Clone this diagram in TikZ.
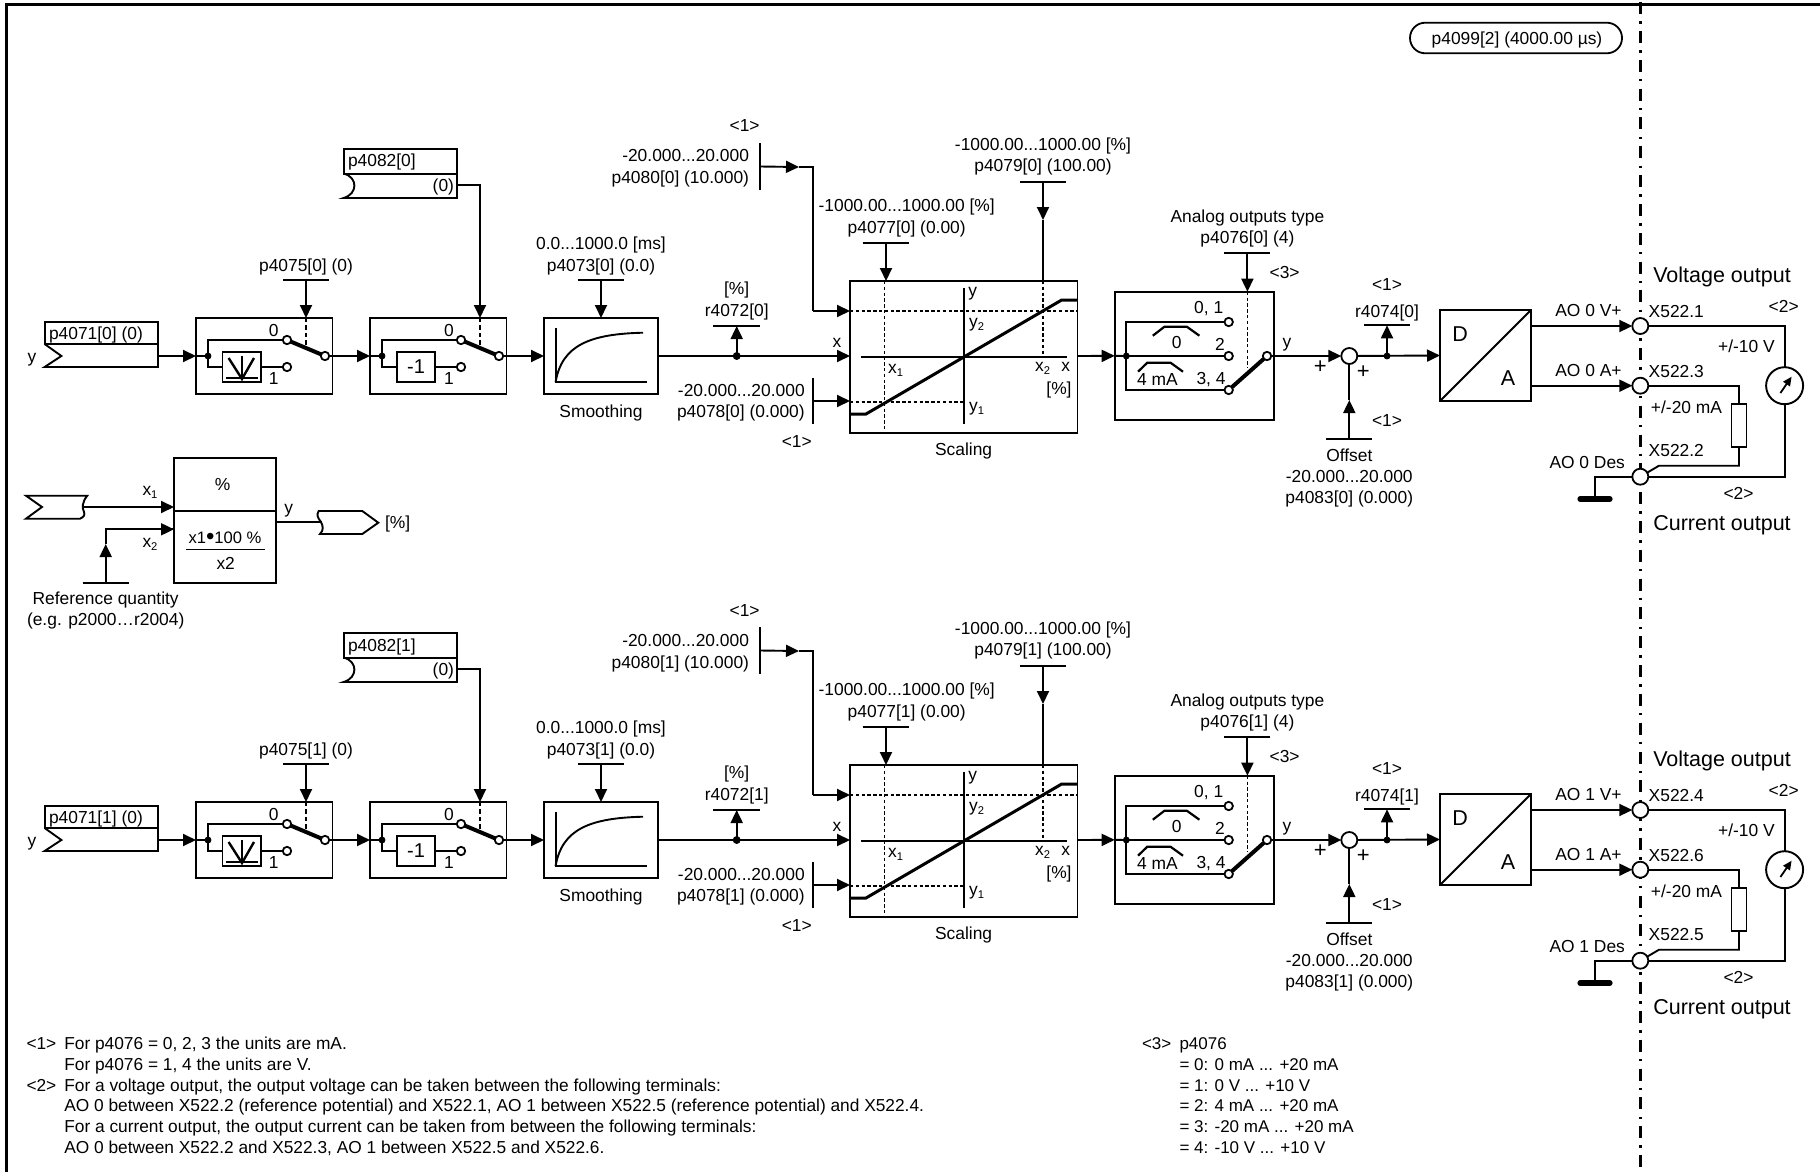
\documentclass[tikz,border=0pt]{standalone}
\usepackage{fontspec}
\setmainfont{Liberation Sans}
\usetikzlibrary{arrows.meta}
\tikzset{
  wire/.style={line width=0.95pt,line join=miter},
  arr/.style={wire,-{Triangle[length=6.5pt,width=6pt]}},
  blk/.style={draw,line width=0.9pt,inner sep=0pt,outer sep=0pt,fill=white},
  lbl/.style={inner sep=0pt,outer sep=0pt,font=\fontsize{8.7}{10}\selectfont,text height=6pt,text depth=0pt},
  big/.style={lbl,font=\fontsize{10.75}{12}\selectfont,text height=7.4pt},
  notetxt/.style={lbl,font=\fontsize{8.66}{10}\selectfont,text height=5.9pt,anchor=west},
  notetxtb/.style={lbl,font=\fontsize{8.5}{10}\selectfont,text height=5.9pt,anchor=west},
  dot/.style={circle,fill=black,draw=black,inner sep=0pt,minimum size=3pt,outer sep=0pt},
  smallc/.style={circle,draw,line width=0.9pt,fill=white,inner sep=0pt,minimum size=4.2pt,outer sep=0pt},
  term/.style={circle,draw,line width=0.9pt,fill=white,inner sep=0pt,minimum size=8pt,outer sep=0pt},
  swarm/.style={line width=2pt},
  curveline/.style={line width=1.5pt},
  fine/.style={line width=0.75pt,dash pattern=on 1.7pt off 1.2pt},
}
\newcommand{\bx}[5]{\node[blk,minimum width={(#4-(#2))*0.5pt},minimum height={(#5-(#3))*0.5pt}] (#1) at ({(#2+#4)/2},{(#3+#5)/2}) {};}
\newcommand{\tx}[5][center]{\node[lbl,anchor=#1] (#2) at (#3,#4) {#5};}
\newcommand{\pbarh}[4]{\coordinate (#1) at (#2,#3); \draw[wire] ([xshift=-#4*0.5pt]#1) -- ([xshift=#4*0.5pt]#1);}
\newcommand{\pbarv}[4]{\coordinate (#1) at (#2,#3); \draw[wire] ([yshift=-#4*0.5pt]#1) -- ([yshift=#4*0.5pt]#1);}
\newcommand{\sbs}[1]{\raisebox{-1.5pt}{\fontsize{5.6}{6}\selectfont #1}}
\newcommand{\stage}[7]{%
\begin{scope}[shift={(0,#3)}]
% parameter p4082
\draw[wire] (343.6,173.6) -- (457,173.6);
\bx{p82#1}{343.6}{149}{457}{173.6}
\draw[wire] (343.6,173.6) .. controls (358,177) and (358,194) .. (343.6,198) -- (457,198) -- (457,173.6);
\tx[west]{t82#1}{348}{161}{p4082[#2]}
\tx[east]{t82v#1}{454}{185.5}{(0)}
\coordinate (c82#1) at (457,185);
% p4071
\bx{p71#1}{44.6}{322}{158}{344}
\draw[wire] (44.6,344) -- (61.4,356) -- (44.6,367) -- (158,367) -- (158,344);
\tx[west]{t71#1}{49}{333}{p4071[#2] (0)}
\tx{ty#1}{32}{356}{y}
\coordinate (c71#1) at (158,356);
% absolute value switch
\bx{boxA#1}{196}{318}{332.5}{394}
\node[dot] (dA#1) at (208,356) {};
\node[smallc] (oA0#1) at (287,340) {};
\node[smallc] (oA1#1) at (287,367) {};
\node[smallc] (oAo#1) at (325,356) {};
\bx{iA#1}{222.5}{352}{261}{382}
\draw[wire] (dA#1) |- (oA0#1);
\draw[wire] (dA#1) |- (iA#1.west);
\draw[wire] (iA#1) -- (oA1#1);
\draw[wire] (boxA#1.west) -- (dA#1);
\draw[swarm] (oA0#1) -- (oAo#1);
\draw[wire] (iA#1.north) ++(0,4) -- ++(0,23);
\draw[line width=1.2pt] (228.6,358) -- (242,379) -- (254,358);
\draw[wire] (226,378) -- (257.5,378);
\tx{tA0#1}{273.6}{330}{0}
\tx{tA1#1}{273.6}{378}{1}
\pbarh{b75#1}{306}{280}{23}
\tx{t75#1}{306}{265}{p4075[#2] (0)}
\draw[arr] (b75#1) -- (306,318);
\draw[wire,dash pattern=on 2.2pt off 1.5pt] (306,318) -- (306,345);
\draw[arr] (c71#1) -- (boxA#1.west);
% negate switch
\bx{boxB#1}{370}{318}{506.4}{394}
\node[dot] (dB#1) at (382,356) {};
\node[smallc] (oB0#1) at (461,340) {};
\node[smallc] (oB1#1) at (461,367) {};
\node[smallc] (oBo#1) at (499,356) {};
\node[blk,minimum width=19pt,minimum height=15pt,lbl,draw,line width=0.9pt,font=\fontsize{10}{12}\selectfont] (iB#1) at (416,367) {-1};
\draw[wire] (dB#1) |- (oB0#1);
\draw[wire] (dB#1) |- (iB#1.west);
\draw[wire] (iB#1) -- (oB1#1);
\draw[wire] (boxB#1.west) -- (dB#1);
\draw[swarm] (oB0#1) -- (oBo#1);
\tx{tB0#1}{449}{330}{0}
\tx{tB1#1}{449}{378}{1}
\draw[wire] (c82#1) -| (480,300);
\draw[arr] (480,300) -- (480,318);
\draw[wire,dash pattern=on 2.2pt off 1.5pt] (480,318) -- (480,345);
\draw[arr] (oAo#1) -- (boxB#1.west);
% smoothing
\bx{boxF#1}{544}{318}{658}{394}
\draw[wire] (555.6,328) -- (555.6,382) -- (647,382);
\draw[wire] (555.6,382) .. controls (562,345) and (590,334) .. (643,332.7);
\tx{tSm#1}{601}{411.5}{Smoothing}
\tx{t73a#1}{601}{243}{0.0...1000.0 [ms]}
\tx{t73b#1}{601}{265}{p4073[#2] (0.0)}
\pbarh{b73#1}{601}{280}{23.3}
\draw[arr] (b73#1) -- (boxF#1.north);
\draw[arr] (oBo#1) -- (boxF#1.west);
% scaling
\bx{boxS#1}{850}{281}{1077.5}{433}
\coordinate (sIn#1) at (850,356);
\coordinate (sOut#1) at (1077.5,356);
\node[dot,minimum size=3.5pt] (d72#1) at (736.7,356) {};
\draw[arr] (boxF#1.east) -- (sIn#1);
\pbarh{b72#1}{736.7}{326}{23.3}
\draw[arr] (d72#1) -- (b72#1);
\tx{t72a#1}{736.7}{288}{[\%]}
\tx{t72b#1}{736.7}{310}{r4072[#2]}
\tx{tXi#1}{837}{341}{x}
\draw[wire] (861,357) -- (1066.5,357);
\draw[wire] (964,288) -- (964,424);
\draw[fine] (884.6,281) -- (884.6,433);
\draw[fine] (1043,281) -- (1043,356);
\draw[fine] (850,311) -- (1077.5,311);
\draw[fine] (850,402) -- (964,402);
\draw[curveline] (850,414) -- (866,414) -- (1061.7,300) -- (1077.5,300);
\tx{tSy#1}{972.7}{290}{y}
\tx{tSy2#1}{976.7}{321}{y\sbs{2}}
\tx{tSy1#1}{976.7}{405}{y\sbs{1}}
\tx{tSx1#1}{895.6}{367}{x\sbs{1}}
\tx{tSx2#1}{1042.7}{365}{x\sbs{2}}
\tx{tSx#1}{1065.7}{365}{x}
\tx{tSp#1}{1059}{388}{[\%]}
\tx{tScal#1}{963.6}{449}{Scaling}
% p4080
\pbarv{b80#1}{759.6}{166.5}{23.5}
\tx[east]{t80a#1}{749}{156}{-20.000...20.000}
\tx[east]{t80b#1}{749}{178}{p4080[#2] (10.000)}
\tx{t80c#1}{744.6}{126}{<1>}
\coordinate (m80#1) at (799,167);
\coordinate (sY2#1) at (850,311);
\draw[arr] (b80#1) -- (m80#1);
\draw[wire] (m80#1) -- (812.6,167) -- (812.6,311);
\draw[arr] (812.6,311) -- (sY2#1);
% p4077
\pbarh{b77#1}{886}{243}{23.3}
\draw[arr] (b77#1) -- (886,281);
\tx{t77a#1}{906.7}{205}{-1000.00...1000.00 [\%]}
\tx{t77b#1}{906.7}{227}{p4077[#2] (0.00)}
% p4079
\pbarh{b79#1}{1043}{182}{23.3}
\coordinate (m79#1) at (1043,220);
\draw[arr] (b79#1) -- (m79#1);
\draw[wire] (m79#1) -- (1043,281);
\tx{t79a#1}{1043}{144}{-1000.00...1000.00 [\%]}
\tx{t79b#1}{1043}{165}{p4079[#2] (100.00)}
% p4078
\pbarv{b78#1}{813}{401}{23}
\draw[arr] (b78#1) -- (850,401);
\tx[east]{t78a#1}{804.7}{390}{-20.000...20.000}
\tx[east]{t78b#1}{804.7}{411}{p4078[#2] (0.000)}
\tx{t78c#1}{796.8}{441}{<1>}
% type switch
\bx{boxC#1}{1114.7}{291.7}{1274}{420}
\node[dot] (dC#1) at (1126.3,356) {};
\node[smallc] (oC0#1) at (1228.7,322) {};
\node[smallc] (oC2#1) at (1228.7,356) {};
\node[smallc] (oC3#1) at (1228.7,390) {};
\node[smallc] (oCo#1) at (1267,356) {};
\draw[wire] (dC#1) |- (oC0#1);
\draw[wire] (dC#1) -- (oC2#1);
\draw[wire] (dC#1) |- (oC3#1);
\draw[wire] (boxC#1.west) -- (dC#1);
\draw[swarm] (oC3#1) -- (oCo#1);
\draw[arr] (sOut#1) -- (boxC#1.west);
\draw[line width=1.1pt] (1152.8,335.7) -- (1164.5,326.7) -- (1186.8,326.7) -- (1199.4,335.7);
\draw[line width=1.1pt] (1138,371.7) -- (1147.3,362.7) -- (1170.5,362.7) -- (1183,371.7);
\tx{tC01#1}{1208.7}{307.3}{0, 1}
\tx{tC2#1}{1220}{344}{2}
\tx{tC34#1}{1211}{378}{3, 4}
\tx{tC0#1}{1176.6}{342}{0}
\tx{tC4#1}{1157.5}{379}{4 mA}
\tx{tCy#1}{1287}{341.7}{y}
\tx{t76a#1}{1247.4}{216.7}{Analog outputs type}
\tx{t76b#1}{1247.4}{237.7}{p4076[#2] (4)}
\tx{t76c#1}{1284.6}{272}{<3>}
\pbarh{b76#1}{1247.4}{253.3}{23}
\draw[arr] (b76#1) -- (1247.4,291.7);
\draw[fine] (1247.4,291.7) -- (1247.4,368);
% summing point and offset
\node[term] (sum#1) at (1349.3,356) {};
\draw[arr] (oCo#1) -- (sum#1);
\node[lbl,font=\fontsize{11}{12}\selectfont] (tP1#1) at (1320.4,367) {+};
\node[lbl,font=\fontsize{11}{12}\selectfont] (tP2#1) at (1363.3,372) {+};
\pbarh{b83#1}{1349.3}{439}{23}
\coordinate (m83#1) at (1349.3,400);
\draw[arr] (b83#1) -- (m83#1);
\draw[wire] (m83#1) -- (sum#1);
\tx{t83a#1}{1349.3}{455}{Offset}
\tx{t83b#1}{1349.3}{476}{-20.000...20.000}
\tx{t83c#1}{1349.3}{497}{p4083[#2] (0.000)}
\tx{t83d#1}{1387}{420}{<1>}
% r4074 and D/A
\bx{da#1}{1440}{310}{1531}{401}
\draw[wire] (da#1.south west) -- (da#1.north east);
\node[big,text height=7pt] (tD#1) at (1460,334) {D};
\node[big,text height=7pt] (tAa#1) at (1508,378) {A};
\draw[arr] (sum#1) -- (da#1.west);
\node[dot] (d74#1) at (1387,356) {};
\pbarh{b74#1}{1387}{325.3}{23}
\draw[arr] (d74#1) -- (b74#1);
\tx{t74a#1}{1387}{311}{r4074[#2]}
\tx{t74b#1}{1387}{284}{<1>}
% terminals
\node[term] (tV#1) at (1640.3,326) {};
\node[term] (tI#1) at (1640.3,385.7) {};
\node[term] (tG#1) at (1640.3,476.7) {};
\coordinate (daV#1) at (1531,326);
\coordinate (daI#1) at (1531,385.7);
\draw[arr] (daV#1) -- (tV#1);
\draw[arr] (daI#1) -- (tI#1);
\tx{tAV#1}{1588.5}{310}{AO #4 V+}
\tx{tAI#1}{1588.5}{370}{AO #4 A+}
\tx{tAD#1}{1587.2}{462.7}{AO #4 Des}
\tx[west]{tX1#1}{1648.7}{311.7}{X522.#5}
\tx[west]{tX2#1}{1648.7}{371}{X522.#6}
\tx[west]{tX3#1}{1648.7}{450.7}{X522.#7}
% load
\node[circle,draw,line width=0.95pt,fill=white,inner sep=0pt,minimum size=18.5pt,outer sep=0pt] (meter#1) at (1784.6,385.7) {};
\draw[line width=0.9pt,-{Triangle[length=4.5pt,width=4pt]}] (1780.4,393) -- (1791.6,376.7);
\draw[wire] (tV#1) -| (meter#1);
\draw[wire] (meter#1) |- (tG#1);
\bx{res#1}{1731.5}{404}{1746.4}{446.7}
\draw[wire] (tI#1) -| (res#1);
\coordinate (kink#1) at (1659,465.7);
\draw[wire] (res#1) |- (kink#1) -- (tG#1);
\coordinate (gnd#1) at (1595,499);
\draw[wire] (tG#1) -| (gnd#1);
\draw[line width=2.6pt,line cap=round] ([xshift=-7.5pt]gnd#1) -- ([xshift=7.5pt]gnd#1);
\tx{tPV#1}{1746.4}{346.7}{+/-10 V}
\tx{tPI#1}{1686.5}{407}{+/-20 mA}
\tx{tN2a#1}{1783.7}{306.7}{<2>}
\tx{tN2b#1}{1738.5}{493}{<2>}
\node[big] (tVo#1) at (1722,275) {Voltage output};
\node[big] (tCo#1) at (1722,522.7) {Current output};
\end{scope}}
\begin{document}
\begin{tikzpicture}[x=0.5pt,y=-0.5pt]
\useasboundingbox (0,0) rectangle (1820,1172);
\fill[white] (0,0) rectangle (1820,1172);
% frame
\draw[line width=1.4pt] (6.4,1172) -- (6.4,4.2) -- (1820,4.2);
% separator
\draw[line width=1.5pt,dash pattern=on 6pt off 3.6pt on 1.2pt off 3.61pt] (1640.7,2.2) -- (1640.7,1168);
% sample time
\node[lbl,draw,line width=0.9pt,rounded corners=7.6pt,minimum width=106pt,minimum height=15.3pt,text height=6pt] (p99) at (1516,38) {};
\tx{t99}{1517}{38.5}{p4099[2] (4000.00 µs)}
\stage{a}{0}{0}{0}{1}{3}{2}
\stage{b}{1}{484}{1}{4}{6}{5}
% conversion block
\bx{cv}{174}{457.7}{276}{582.7}
\draw[wire] (cv.west |- 0,510.7) -- (cv.east |- 0,510.7);
\tx{tpc}{222.7}{484}{\%}
\node[lbl,font=\fontsize{8.3}{10}\selectfont] (tfr) at (225,537.7) {x1\raisebox{-0.6pt}{\fontsize{12}{12}\selectfont •}100 \%};
\draw[line width=0.6pt] (186,549.3) -- (265,549.3);
\tx{tx2f}{225.7}{563}{x2}
\draw[wire] (26,495.7) -- (87.3,495.7) .. controls (82,502) and (82,508) .. (84,512) .. controls (85,515) and (84,517) .. (80,518.7) -- (26,518.7) -- (42,507) -- cycle;
\coordinate (inX1) at (84,507);
\coordinate (cvX1) at (174,507);
\draw[arr] (inX1) -- (cvX1);
\tx{tx1}{150}{489}{x\sbs{1}}
\tx{tx2}{150}{541.7}{x\sbs{2}}
\pbarh{bRef}{105.7}{582.7}{23.2}
\coordinate (mRef) at (105.7,544);
\coordinate (cvX2) at (174,529.3);
\draw[arr] (bRef) -- (mRef);
\draw[wire] (mRef) |- (cvX2);
\draw[arr] (105.7,529.3) -- (cvX2);
\tx{tr1}{105.7}{598}{Reference quantity}
\tx{tr2}{105.7}{619}{(e.g. p2000…r2004)}
\tx{tcy}{288.7}{507.7}{y}
\coordinate (cvOut) at (276,522);
\coordinate (flagIn) at (322,522);
\draw[line width=0.75pt] (cvOut) -- (flagIn);
\draw[wire] (318.7,511) -- (362.3,511) -- (378.3,522.7) -- (362.3,534) -- (320,534) .. controls (324,530) and (323,526) .. (321,522) .. controls (318,518) and (316,515) .. (318.7,511) -- cycle;
\tx[west]{tpo}{385}{522}{[\%]}
% notes
\node[notetxt] (n1a) at (26.5,1043.5) {<1>};
\node[notetxt] (n1b) at (64.3,1043.5) {For p4076 = 0, 2, 3 the units are mA.};
\node[notetxt] (n1c) at (64.3,1064.3) {For p4076 = 1, 4 the units are V.};
\node[notetxt] (n2a) at (26.5,1085.1) {<2>};
\node[notetxt] (n2b) at (64.3,1085.1) {For a voltage output, the output voltage can be taken between the following terminals:};
\node[notetxt] (n2c) at (64.3,1105.9) {AO 0 between X522.2 (reference potential) and X522.1, AO 1 between X522.5 (reference potential) and X522.4.};
\node[notetxt] (n2d) at (64.3,1126.8) {For a current output, the output current can be taken from between the following terminals:};
\node[notetxt] (n2e) at (64.3,1147.8) {AO 0 between X522.2 and X522.3, AO 1 between X522.5 and X522.6.};
\node[notetxtb] (n3a) at (1142,1043.5) {<3>};
\node[notetxtb] (n3b) at (1179.5,1043.5) {p4076};
\node[notetxtb] (n3c) at (1179.5,1064.3) {= 0: 0 mA ... +20 mA};
\node[notetxtb] (n3d) at (1179.5,1085.1) {= 1: 0 V ... +10 V};
\node[notetxtb] (n3e) at (1179.5,1105.9) {= 2: 4 mA ... +20 mA};
\node[notetxtb] (n3f) at (1179.5,1126.8) {= 3: -20 mA ... +20 mA};
\node[notetxtb] (n3g) at (1179.5,1147.8) {= 4: -10 V ... +10 V};
\end{tikzpicture}
\end{document}
